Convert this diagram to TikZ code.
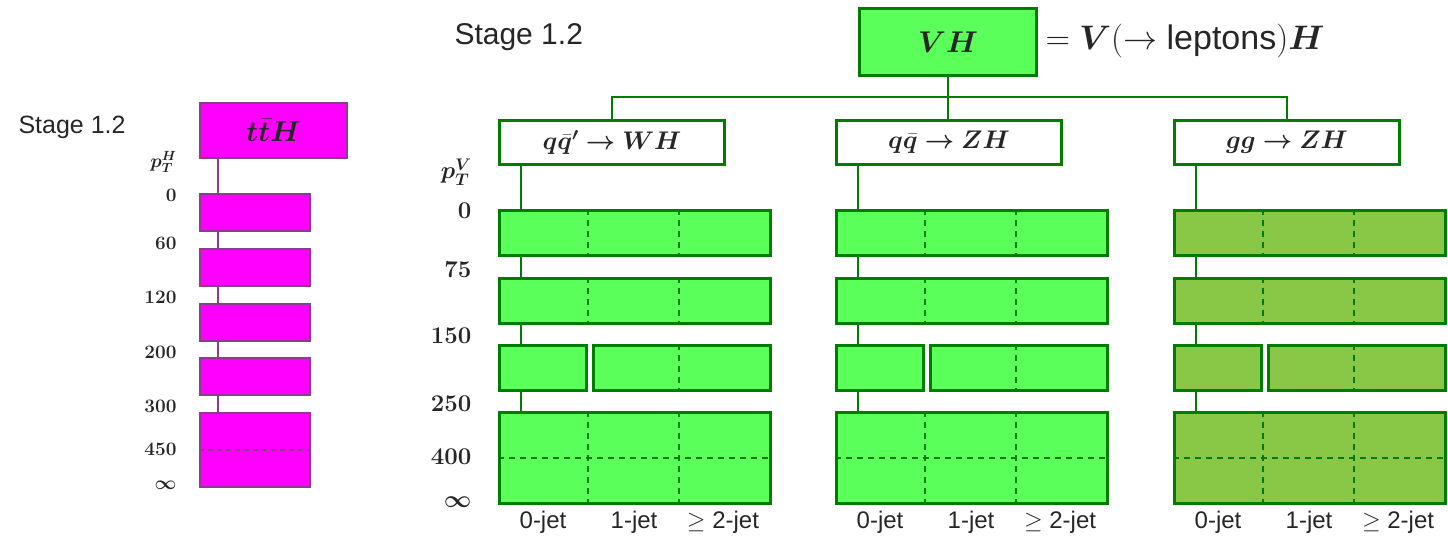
\RequirePackage{fix-cm}
\documentclass[tikz,border=0pt]{standalone}
\usepackage{amsmath}
\usepackage{bm}
\usepackage{fontspec}
\setsansfont{Liberation Sans}
\definecolor{ltgreen}{RGB}{90,255,90}
\definecolor{olgreen}{RGB}{136,200,70}
\definecolor{dkgreen}{RGB}{0,125,0}
\definecolor{magfill}{RGB}{255,0,255}
\definecolor{magline}{RGB}{140,60,140}
\definecolor{txtcol}{RGB}{38,38,38}
\newcommand{\fsz}[1]{\fontsize{#1}{#1}\selectfont}
\begin{document}
\begin{tikzpicture}[x=1pt,y=-1pt,
  every node/.style={text=txtcol},
  grnbox/.style={draw=dkgreen,line width=3pt,rectangle,inner sep=0pt,anchor=north west},
  magbox/.style={draw=magline,fill=magfill,line width=2pt,rectangle,inner sep=0pt,anchor=north west,minimum width=110pt},
  gconn/.style={draw=dkgreen,line width=2pt},
  mconn/.style={draw=magline,line width=1.5pt},
  gdash/.style={draw=dkgreen,line width=1.8pt,dash pattern=on 6pt off 5pt},
  mdash/.style={draw=magline,line width=1.2pt,dash pattern=on 5pt off 4pt},
  numr/.style={anchor=east,font=\fsz{24}\bfseries},
  numl/.style={anchor=east,font=\fsz{19}\bfseries},
  jetlab/.style={font=\fsz{24}\sffamily},
  stagelab/.style={anchor=west}
]
\useasboundingbox (0,0) rectangle (1448,541);

% ---------------- left: ttH ----------------
\node[stagelab,font=\fsz{25}\sffamily] (stL) at (15,127) {Stage 1.2};
\node[magbox,minimum width=147pt,minimum height=55pt,font=\fsz{29}] (tth) at (199,102) {$\bm{t}\bar{\bm{t}}\bm{H}$};
\node[magbox,minimum height=37pt] (m1) at (199,193) {};
\node[magbox,minimum height=37pt] (m2) at (199,248) {};
\node[magbox,minimum height=37pt] (m3) at (199,303) {};
\node[magbox,minimum height=37pt] (m4) at (199,357) {};
\node[magbox,minimum height=74pt] (m5) at (199,412) {};
\draw[mdash] (m5.west) -- (m5.east);
\draw[mconn] ([xshift=19pt]tth.south west) -- ([xshift=19pt]m1.north west);
\draw[mconn] ([xshift=19pt]m1.south west) -- ([xshift=19pt]m2.north west);
\draw[mconn] ([xshift=19pt]m2.south west) -- ([xshift=19pt]m3.north west);
\draw[mconn] ([xshift=19pt]m3.south west) -- ([xshift=19pt]m4.north west);
\draw[mconn] ([xshift=19pt]m4.south west) -- ([xshift=19pt]m5.north west);
\node[anchor=east,font=\fsz{19}] (ptH) at (180,162) {$\bm{p_T^H}$};
\node[numl] (l0) at (180,195) {0};
\node[numl] (l60) at (180,243) {60};
\node[numl] (l120) at (180,297) {120};
\node[numl] (l200) at (180,352) {200};
\node[numl] (l300) at (180,406) {300};
\node[numl] (l450) at (180,449) {450};
\node[numl] (linf) at (180,485) {$\bm{\infty}$};

% ---------------- right: VH ----------------
\node[stagelab,font=\fsz{30}\sffamily] (stR) at (451,37) {Stage 1.2};
\node[grnbox,fill=ltgreen,minimum width=177pt,minimum height=67pt,font=\fsz{30}] (vh) at (858,7) {$\bm{VH}$};
\node[anchor=west,font=\fsz{34}] (vhdef) at (1042,41) {$=\bm{V}(\rightarrow\mbox{\sffamily leptons})\bm{H}$};

\foreach \dx/\nm/\fc/\lab in {0/wh/ltgreen/{$\bm{q\bar{q}'\rightarrow WH}$},337/zh/ltgreen/{$\bm{q\bar{q}\rightarrow ZH}$},675/gg/olgreen/{$\bm{gg\rightarrow ZH}$}}{
  \node[grnbox,fill=white,minimum width=225pt,minimum height=44pt,font=\fsz{25.5}] (\nm-p) at (498+\dx,119) {\lab};
  \node[grnbox,fill=\fc,minimum width=271pt,minimum height=45pt] (\nm-r1) at (498+\dx,209) {};
  \node[grnbox,fill=\fc,minimum width=271pt,minimum height=45pt] (\nm-r2) at (498+\dx,277) {};
  \node[grnbox,fill=\fc,minimum width=87pt,minimum height=45pt] (\nm-r3a) at (498+\dx,344) {};
  \node[grnbox,fill=\fc,minimum width=177pt,minimum height=45pt] (\nm-r3b) at (592+\dx,344) {};
  \node[grnbox,fill=\fc,minimum width=271pt,minimum height=91pt] (\nm-r4) at (498+\dx,411) {};
  \draw[gdash] ([xshift=90.3pt]\nm-r1.north west) -- ([xshift=90.3pt]\nm-r1.south west);
  \draw[gdash] ([xshift=180.7pt]\nm-r1.north west) -- ([xshift=180.7pt]\nm-r1.south west);
  \draw[gdash] ([xshift=90.3pt]\nm-r2.north west) -- ([xshift=90.3pt]\nm-r2.south west);
  \draw[gdash] ([xshift=180.7pt]\nm-r2.north west) -- ([xshift=180.7pt]\nm-r2.south west);
  \draw[gdash] ([xshift=86.7pt]\nm-r3b.north west) -- ([xshift=86.7pt]\nm-r3b.south west);
  \draw[gdash] ([xshift=90.3pt]\nm-r4.north west) -- ([xshift=90.3pt]\nm-r4.south west);
  \draw[gdash] ([xshift=180.7pt]\nm-r4.north west) -- ([xshift=180.7pt]\nm-r4.south west);
  \draw[gdash] (\nm-r4.west) -- (\nm-r4.east);
  \draw[gconn] ([xshift=23pt]\nm-p.south west) -- ([xshift=23pt]\nm-r1.north west);
  \draw[gconn] ([xshift=23pt]\nm-r1.south west) -- ([xshift=23pt]\nm-r2.north west);
  \draw[gconn] ([xshift=23pt]\nm-r2.south west) -- ([xshift=23pt]\nm-r3a.north west);
  \draw[gconn] ([xshift=23pt]\nm-r3a.south west) -- ([xshift=23pt]\nm-r4.north west);
  \node[jetlab] (\nm-j0) at (543+\dx,522) {0-jet};
  \node[jetlab] (\nm-j1) at (634+\dx,522) {1-jet};
  \node[jetlab] (\nm-j2) at (723+\dx,522) {$\geq$ 2-jet};
}
\coordinate (bar) at (0,97);
\draw[gconn] (vh.south) -- (vh.south |- zh-p.north);
\draw[gconn] (wh-p.north) -- (wh-p.north |- bar) -| (gg-p.north);

\node[anchor=east,font=\fsz{24}] (ptV) at (475,172) {$\bm{p_T^V}$};
\node[numr] (r0) at (475,211) {0};
\node[numr] (r75) at (475,270) {75};
\node[numr] (r150) at (475,336) {150};
\node[numr] (r250) at (475,404) {250};
\node[numr] (r400) at (475,457) {400};
\node[numr] (rinf) at (475,502) {$\bm{\infty}$};
\end{tikzpicture}
\end{document}
